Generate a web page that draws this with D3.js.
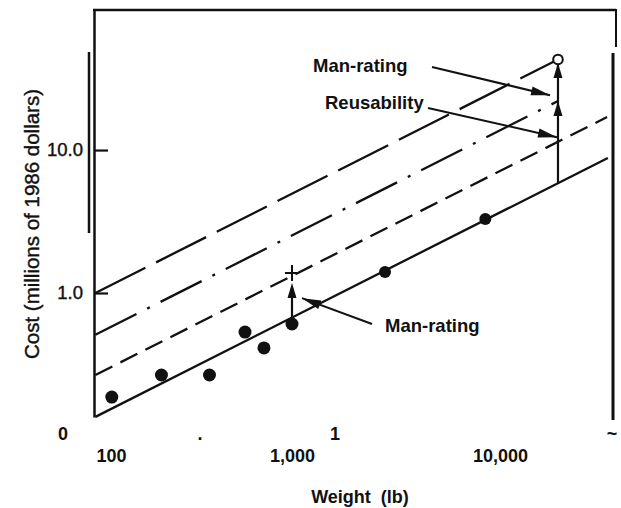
<!DOCTYPE html>
<html>
<head>
<meta charset="utf-8">
<script src="https://cdn.jsdelivr.net/npm/d3@7/dist/d3.min.js"></script>
<style>
  body { margin: 0; background: #fff; }
  text { font-family: "Liberation Sans", Arial, Helvetica, sans-serif; fill: #111; }
</style>
</head>
<body>
<svg width="621" height="508"></svg>
<script>
// weight in lb, cost in millions of 1986 dollars
var weightTicks = [100, 1000, 10000];
var costTicks = [1, 10];

var pointWeights = [101, 190, 350, 550, 700, 1000, 2800, 8500];
var pointCosts = [0.187, 0.267, 0.267, 0.533, 0.413, 0.607, 1.40, 3.29];

// cost lines, [weight, cost] at each end
var baseLine = [[82, 0.136], [33000, 8.8]];
var manRatedLine = [[82, 0.267], [32700, 17.0]];
var reusableLine = [[82, 0.51], [19000, 22.0]];
var reusableManRatedLine = [[82, 1.0], [19000, 43]];

// step arrows
var bigStep = { weight: 19000, costs: [5.9, 22.0, 40.6], top: 43 };
var smallStep = { weight: 1000, costs: [0.607, 1.175], top: 1.38 };

var svg = d3.select("svg");
var ink = "#111";

var x = d3.scaleLog().domain([100, 1000, 10000]).range([111, 292, 500]);
var y = d3.scaleLog().domain([0.1357, 95.4]).range([417, 10]);

// frame bits (scanned figure)
svg.append("line").attr("x1", 93).attr("x2", 616).attr("y1", 10).attr("y2", 10)
    .attr("stroke", ink).attr("stroke-width", 2.5);
svg.append("line").attr("x1", 616).attr("x2", 616).attr("y1", 9).attr("y2", 47)
    .attr("stroke", ink).attr("stroke-width", 2);
svg.append("line").attr("x1", 613).attr("x2", 613).attr("y1", 53).attr("y2", 420)
    .attr("stroke", ink).attr("stroke-width", 3);
svg.append("line").attr("x1", 89).attr("x2", 89).attr("y1", 52).attr("y2", 233)
    .attr("stroke", ink).attr("stroke-width", 2.5);

// y axis
var yAxis = svg.append("g")
    .attr("transform", "translate(94,0)")
    .call(d3.axisLeft(y).tickValues(costTicks).tickFormat(d3.format(".1f"))
        .tickSize(-14).tickSizeOuter(0).tickPadding(11));
yAxis.select(".domain").attr("stroke", ink).attr("stroke-width", 2.5);
yAxis.selectAll(".tick line").attr("stroke", ink).attr("stroke-width", 2.2);
yAxis.selectAll("text").style("font-size", "18.5px").attr("fill", ink)
    .attr("stroke", ink).attr("stroke-width", 0.4);

// x axis, labels only
var xAxis = svg.append("g")
    .attr("transform", "translate(0,440)")
    .call(d3.axisBottom(x).tickValues(weightTicks).tickFormat(d3.format(","))
        .tickSize(0).tickPadding(9));
xAxis.select(".domain").remove();
xAxis.selectAll("text").style("font-size", "18px").style("font-weight", "bold").attr("fill", ink);

// stray marks along the bottom
[["0", 63], [".", 200], ["1", 335], ["~", 612]].forEach(function (s) {
    svg.append("text").attr("x", s[1]).attr("y", 440)
        .attr("text-anchor", "middle")
        .style("font-size", "18px").style("font-weight", "bold")
        .text(s[0]);
});

svg.append("text")
    .attr("x", 360).attr("y", 503)
    .attr("text-anchor", "middle")
    .style("font-size", "18px").style("font-weight", "bold")
    .attr("xml:space", "preserve")
    .text("Weight  (lb)");

svg.append("text")
    .attr("transform", "translate(39,224) rotate(-90)")
    .attr("text-anchor", "middle")
    .style("font-size", "20.5px")
    .attr("stroke", ink).attr("stroke-width", 0.4)
    .text("Cost (millions of 1986 dollars)");

// cost lines
var line = d3.line().x(function (d) { return x(d[0]); }).y(function (d) { return y(d[1]); });

[[baseLine, null], [manRatedLine, "19,9"], [reusableLine, "46,12,3,12"], [reusableManRatedLine, "56,12"]]
    .forEach(function (l) {
        svg.append("path")
            .attr("d", line(l[0]))
            .attr("fill", "none")
            .attr("stroke", ink)
            .attr("stroke-width", 2.3)
            .attr("stroke-dasharray", l[1]);
    });

// data points
svg.selectAll(".pt")
    .data(pointWeights)
    .enter().append("circle")
    .attr("class", "pt")
    .attr("cx", function (d) { return x(d); })
    .attr("cy", function (d, i) { return y(pointCosts[i]); })
    .attr("r", function (d, i) { return i > 5 ? 6 : 6.5; })
    .attr("fill", ink);

function arrowHead(x1, y1, x2, y2, len, half) {
    var a = Math.atan2(y2 - y1, x2 - x1);
    var bx = x2 - len * Math.cos(a), by = y2 - len * Math.sin(a);
    var px = -Math.sin(a) * half, py = Math.cos(a) * half;
    svg.append("path")
        .attr("d", "M" + x2 + "," + y2 + "L" + (bx + px) + "," + (by + py) + "L" + (bx - px) + "," + (by - py) + "Z")
        .attr("fill", ink);
}

// big vertical step at the right
var bx = x(bigStep.weight);
svg.append("line").attr("x1", bx).attr("x2", bx)
    .attr("y1", y(bigStep.costs[0])).attr("y2", y(bigStep.top))
    .attr("stroke", ink).attr("stroke-width", 2.2);
arrowHead(bx, y(bigStep.costs[0]), bx, y(bigStep.costs[1]), 15, 4.5);
arrowHead(bx, y(bigStep.costs[1]), bx, y(bigStep.costs[2]), 15, 4.5);
svg.append("circle").attr("cx", bx).attr("cy", y(bigStep.top)).attr("r", 4.8)
    .attr("fill", "#fff").attr("stroke", ink).attr("stroke-width", 2);

// small vertical step at 1,000 lb
var sx = x(smallStep.weight);
svg.append("line").attr("x1", sx).attr("x2", sx)
    .attr("y1", y(smallStep.costs[0])).attr("y2", y(smallStep.costs[1]) + 5)
    .attr("stroke", ink).attr("stroke-width", 2.2);
arrowHead(sx, y(smallStep.costs[0]), sx, y(smallStep.costs[1]), 15, 4.5);
var py = y(smallStep.top);
svg.append("path")
    .attr("d", "M" + (sx - 7) + "," + py + "H" + (sx + 7) + "M" + sx + "," + (py - 8) + "V" + (py + 8))
    .attr("stroke", ink).attr("stroke-width", 2);

// annotations
var notes = [
    { text: "Man-rating", tx: 313, ty: 72, from: [432, 67], to: [17400, 24.2] },
    { text: "Reusability", tx: 325, ty: 109, from: [428, 108], to: [18800, 12.3] },
    { text: "Man-rating", tx: 385, ty: 332, from: [372, 324], to: [1117, 0.92] }
];
notes.forEach(function (n) {
    svg.append("text").attr("x", n.tx).attr("y", n.ty)
        .style("font-size", "18.5px").style("font-weight", "bold")
        .text(n.text);
    var ex = x(n.to[0]), ey = y(n.to[1]);
    svg.append("line").attr("x1", n.from[0]).attr("y1", n.from[1])
        .attr("x2", ex).attr("y2", ey)
        .attr("stroke", ink).attr("stroke-width", 2);
    arrowHead(n.from[0], n.from[1], ex, ey, 19, 4.5);
});
</script>
</body>
</html>
